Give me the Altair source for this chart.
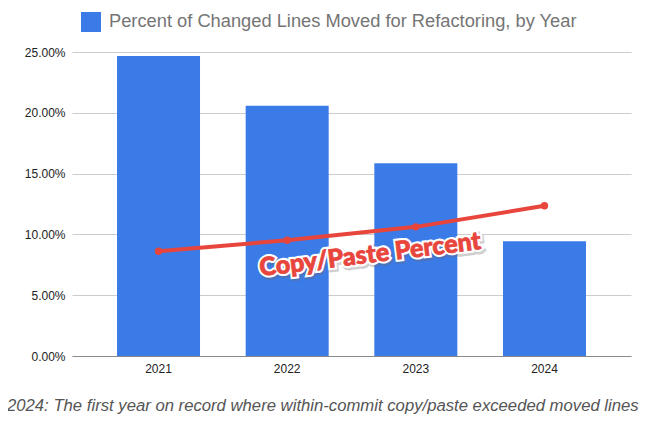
import altair as alt
import pandas as pd

years = ["2021", "2022", "2023", "2024"]
moved_pct = [0.2467, 0.2058, 0.1586, 0.0944]
copy_paste_pct = [0.0862, 0.0952, 0.1062, 0.1235]
series_name = "Percent of Changed Lines Moved for Refactoring, by Year"
line_label = "Copy/Paste Percent"
caption = "2024: The first year on record where within-commit copy/paste exceeded moved lines"
y_ticks = [0, 0.05, 0.10, 0.15, 0.20, 0.25]

FONT = "Liberation Sans"
BLUE = "#3b7be8"
RED = "#e8453c"

df = pd.DataFrame({
    "year": years,
    "moved": moved_pct,
    "copy": copy_paste_pct,
    "series": [series_name] * len(years),
})
lab = pd.DataFrame({"year": ["2023"], "y": [0.088], "text": [line_label]})

x_enc = alt.X("year:N", title=None, sort=years,
              scale=alt.Scale(paddingInner=0.355, paddingOuter=0.35),
              axis=alt.Axis(labelAngle=0, labelFontSize=12, labelColor="#222222",
                            labelFont=FONT, ticks=False, labelPadding=7,
                            domainColor="#8a8a8a", domainWidth=1, grid=False))
y_scale = alt.Scale(domain=[0, 0.25], nice=False)

bars = alt.Chart(df).mark_bar(size=83).encode(
    x=x_enc,
    y=alt.Y("moved:Q", title=None, scale=y_scale,
            axis=alt.Axis(format=".2%", values=y_ticks, labelFontSize=12,
                          labelColor="#222222", labelFont=FONT, ticks=False,
                          domain=False, labelPadding=7, gridColor="#cccccc")),
    color=alt.Color("series:N", scale=alt.Scale(range=[BLUE]),
                    legend=alt.Legend(title=None, orient="none", legendX=9, legendY=-40,
                                      symbolType="square", symbolSize=400,
                                      symbolStrokeWidth=0, labelFontSize=18.3,
                                      labelColor="#757575", labelFont=FONT,
                                      labelLimit=700, labelOffset=8)),
)

line = alt.Chart(df).mark_line(color=RED, strokeWidth=4).encode(
    x=alt.X("year:N", sort=years), y=alt.Y("copy:Q", scale=y_scale))
pts = alt.Chart(df).mark_point(filled=True, color=RED, size=55, opacity=1).encode(
    x=alt.X("year:N", sort=years), y=alt.Y("copy:Q", scale=y_scale))

txt_common = dict(font="Lato", fontSize=25, fontWeight=900, angle=353,
                  align="center", baseline="middle")
shadow = alt.Chart(lab).mark_text(dx=-45, dy=2, fill="#666666", stroke="#666666",
                                  strokeWidth=6, opacity=0.3, **txt_common).encode(
    x=alt.X("year:N", sort=years), y=alt.Y("y:Q", scale=y_scale), text="text:N")
outline = alt.Chart(lab).mark_text(dx=-46, dy=0, fill="white", stroke="white",
                                   strokeWidth=5, **txt_common).encode(
    x=alt.X("year:N", sort=years), y=alt.Y("y:Q", scale=y_scale), text="text:N")
fill = alt.Chart(lab).mark_text(dx=-46, dy=0, fill=RED, stroke=RED, strokeWidth=0.8,
                                **txt_common).encode(
    x=alt.X("year:N", sort=years), y=alt.Y("y:Q", scale=y_scale), text="text:N")

chart = alt.layer(bars, line, pts, shadow, outline, fill).properties(
    width=559, height=304,
    autosize=alt.AutoSizeParams(type="none"),
    padding={"left": 64, "top": 44, "right": 13, "bottom": 59},
    title=alt.TitleParams(text=caption, orient="bottom", anchor="start", frame="group",
                          dx=-65, offset=24, fontSize=16.7, fontStyle="italic",
                          fontWeight="normal", font=FONT, color="#555555"),
).configure_view(stroke=None)

chart.save("out.html", embed_options={"renderer": "svg", "actions": False})
